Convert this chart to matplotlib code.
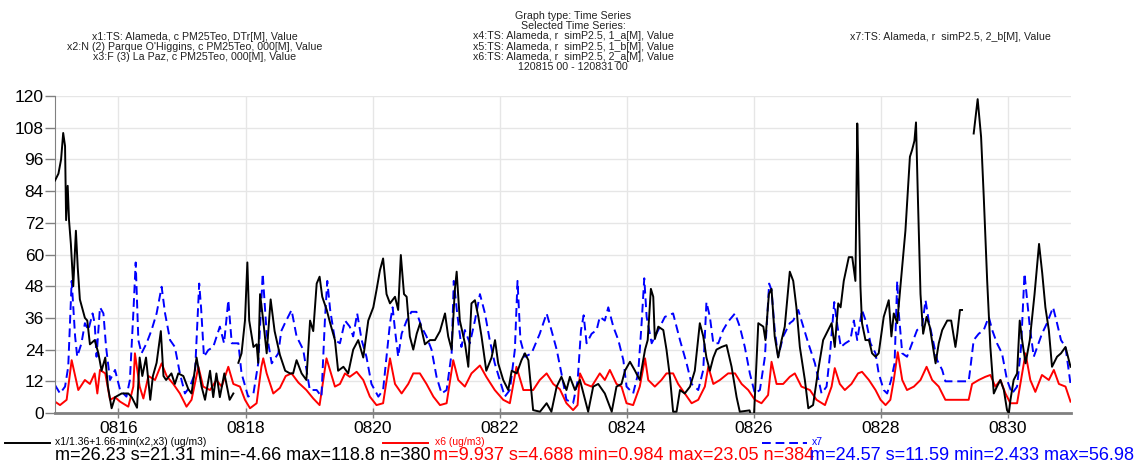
import matplotlib
matplotlib.use("Agg")
import matplotlib.pyplot as plt
import matplotlib.dates as mdates
from matplotlib.lines import Line2D
import numpy as np
import pandas as pd

plt.rcParams["font.family"] = ["Liberation Sans", "DejaVu Sans"]

START = pd.Timestamp("2012-08-15 00:00")
END = pd.Timestamp("2012-08-31 00:00")

# x1/1.36+1.66-min(x2,x3): hours since 0815 00 and values (nan = gap)
x1_hours = [
    0, 1.3, 2.3, 3.1, 3.8, 4.2, 4.8, 5.3, 6, 6.9, 7.9, 8.6, 9.4, 11.3, 12.2, 13.2, 15, 16.4,
    17.6, 19, 20, 21.4, 22.7, 25.2, 27.7, 29, 31, 32, 33, 34.4, 36, 37, 38.4, 40, 41, 42, 44,
    45.3, 46.6, 48.5, 50.4, 51.6, 53.5, 55.4, 56.7, 58.6, 59.8, 61, 62.3, 64, 66, 67.4, 68.3,
    69.3, 70.5, 71.8, 72.7, 73.4, 75, 76.2, 76.8, 77.5, 78.7, 80, 81.5, 83, 85, 87, 88.8, 90,
    91.3, 93.2, 95, 96.4, 97.6, 98.9, 100, 101, 102.7, 104, 105.8, 107, 109, 110.8, 112.7,
    114.6, 116.5, 118.4, 120.3, 121.5, 122.8, 124, 125.3, 126.6, 128.5, 129.7, 130.7, 131.9,
    132.9, 134.1, 135.4, 136.7, 138, 139.8, 141.7, 143.6, 145.5, 147.4, 148.6, 149.9, 151.1,
    151.8, 153, 155, 156.2, 157.4, 158.7, 160, 161.2, 163, 165, 166.3, 167.5, 169.4, 171.3,
    172.6, 174.5, 176.3, 177.6, 178.9, 180.7, 183.3, 185.8, 187.6, 189.6, 191.4, 193.3, 194.6,
    196.5, 198.4, 201.5, 203.4, 205.3, 207.8, 210.4, 212.2, 214.1, 215.4, 217.3, 219.2, 221,
    223, 224, 225.2, 226.1, 226.7, 228, 229.9, 231.1, 232.4, 233.6, 234.9, 236.2, 238, 240,
    241.8, 243.7, 245, 246.2, 247.5, 248.8, 250, 251.9, 253.8, 255.7, 257.6, 258.8, 262.5,
    264, 265.8, 267.7, 268.5, 269.8, 270.8, 272, 273.3, 274.6, 275.8, 277.7, 279, 280.2,
    281.5, 283.4, 284.7, 286.5, 288.4, 290.3, 292.2, 293.5, 294.7, 296, 296.9, 298.1, 300,
    301.3, 302.5, 303.2, 303.5, 303.9, 304.4, 305, 306.3, 307.6, 308.8, 310.1, 311.3, 313.2,
    315.1, 316.1, 317, 318.3, 319.5, 321.4, 323.1, 323.9, 324.8, 325.4, 326.1, 327.1, 328.1,
    329.4, 330.6, 332.8, 334, 335.3, 337.2, 338.7, 340.3, 341, 342, 342.8, 345, 347.2, 348.7,
    350, 351, 352.3, 353.5, 354.8, 356, 357.3, 358.6, 359.8, 360.5, 361.1, 362.3, 363.6,
    364.6, 365.5, 366.8, 368.4, 370.2, 371.9, 373.1, 374.3, 375.6, 376.8, 378.7, 380.2,
    381.9, 383.8,
]
x1_values = [
    88, 90.6, 96, 106, 101, 73, 86, 73, 64, 48, 69, 55, 43, 36, 35, 26, 27.6, 22.6,
    16, 21, 10, 1.8, 6, 7.4, 7.4, 6, 2, 21, 14, 21, 5, 14, 19, 31, 14, 12.5, 15,
    11, 15, 14, 9, 7.4, 21, 10, 5, 16, 6, 15, 6, 15, 5, 7.4, np.nan,
    19, 22.6, 35, 57, 35, 25, 26, 19, 45, 35, 22.6, 43, 31, 22, 16, 15, 15,
    20, 15, 12.5, 35, 31, 49, 51.6, 44, 39, 34, 27.6, 16, 17.5, 15, 24,
    27.6, 21, 35, 40, 46.5, 54, 58.5, 45, 41.5, 44, 39, 59.8, 45,
    44, 29, 24, 30, 34, 26, 27.6, 27.6, 31, 37.7, 29, 24, 46.5,
    53.5, 35, 26, 17.5, 41.5, 42.7, 36.4, 29, 16, 21, 27.6, 18.8, 12.5, 8.7,
    16, 15, 20, 22.6, 20, 1.1, 0.5, 3.7, 0.5, 10, 13.7, 8.7, 13.7,
    8.7, 12.5, 0.5, 10, 11, 7.4, 0.5, 10, 11, 16, 19.4, 16, 12.5,
    24, 27.6, 47, 44, 28, 32.7, 31.4, 24, 13.7, 0.5, 0.5, 8.7, 7.4, 10,
    16, 34, 29, 21, 16, 21, 24, 25, 25.7, 17.5, 6, 0.5, 1,
    -4.66, 34, 32.7, 27.6, 45, 47, 29, 21, 27.6, 32.7, 53.5, 50, 40,
    25, 12.5, 1.8, 3, 16, 27.6, 31.4, 34, 25, 41.5, 40, 50, 59,
    59, 50, 109.6, 97, 73, 47.8, 34, 27.6, 27.6, 22.6, 21.3, 22.6, 36.4,
    42.7, 29, 37.7, 34, 47.8, 69, 97, 99.5, 103, 110, 82, 45, 30,
    36.4, 32.7, 18.8, 26.4, 31.4, 35, 35, 25, 30, 39, 39, np.nan, 105.8, 118.8,
    104.5, 82, 50, 25, 7.4, 10, 12.5, 8.7, 1.1, -0.1, 5, 12.5, 15,
    35, 27.6, 18.8, 27.6, 45, 64, 53, 40, 31.4, 17.5, 21.3, 22.6,
    25, 17.5,
]

# x6
x6_hours = [
    0, 1.9, 4.4, 6.3, 7.2, 8.8, 11.3, 13.2, 15, 16, 17, 19, 20.8, 22.7, 24.6, 27.7, 29.6, 30.2,
    32, 33.4, 35.3, 37.8, 40.3, 42.2, 44.7, 47.2, 49.7, 51.6, 54.2, 56, 58.6, 61, 63, 65.5,
    67.4, 69.9, 71.8, 73.7, 76.2, 78, 78.7, 80, 82.5, 85, 87.2, 89.4, 92, 95, 97.6, 100,
    102.6, 104, 105.8, 107.7, 109.6, 111.4, 114, 116.5, 119, 121.5, 124, 126.6, 128.5, 131,
    133.5, 135.4, 137.9, 140.4, 143, 145.5, 148, 150.5, 152.4, 154.9, 157.4, 160.6, 163,
    166.2, 169.4, 171.9, 174.4, 177, 180.7, 183.2, 185.8, 188.3, 190.8, 193.3, 195.8, 197.5,
    198.4, 200.3, 202.8, 205.9, 207.8, 209.7, 212.2, 214.1, 216, 218.5, 221, 223, 224.2,
    226.7, 229.2, 231.1, 233.6, 235.5, 238, 240.6, 243.1, 245.6, 246.9, 248.8, 251.3, 254.4,
    257, 259.5, 262, 264.5, 267, 269.5, 270.8, 272.7, 275.2, 277.7, 279.6, 282.1, 285.3,
    287.8, 291, 293.5, 294.7, 296.6, 298.5, 301, 303.5, 305, 307.6, 310.1, 312, 313.9, 315.7,
    317, 318.5, 320.2, 322, 324.6, 327.1, 329.4, 331.5, 334, 336.5, 345.3, 346.6, 349.1,
    351.6, 353.5, 355.4, 357.3, 359.2, 361.1, 363.6, 365.5, 366.8, 368.6, 370.5, 373, 375.6,
    377.5, 379.4, 381.9, 383.8,
]
x6_values = [
    4.3, 3, 5, 20, 16, 8.7, 12.5, 11, 15, 7.4, 16.3, 15, 5, 6, 4.3, 2.4, 10, 22.6,
    10, 5.5, 14, 12.5, 18.8, 14, 11, 7.4, 2.4, 5, 17.5, 10, 8.7, 12.5, 10, 17.5,
    11, 10, 5, 1.8, 3.7, 17.5, 20.7, 15, 7.4, 9.5, 14, 15, 11.5, 8.7, 5.5, 3,
    20.7, 16, 10, 11, 15, 13.7, 15.6, 12.5, 6.2, 3, 3.7, 20.7, 11, 7.4,
    11, 15, 15, 11, 6.2, 3, 3.7, 20, 12.5, 10, 15, 18, 13.7,
    8.7, 5, 3.7, 17.5, 8.7, 8.7, 12.5, 15, 11, 9, 3.7, 1.1, 3,
    15, 11, 10, 15, 12.5, 16.3, 11, 10, 3.7, 3, 10, 20.7, 12.5,
    10, 12.5, 15, 15, 11, 7.4, 3.7, 5, 10, 17.5, 11, 12.5, 15,
    15, 11, 8.7, 5, 3.7, 6.8, 19.4, 11, 11, 13.7, 15, 10, 8.7,
    5, 3, 10, 17, 11, 8.7, 11, 15, 15.6, 12.5, 8.7, 5, 3, 5,
    12.5, 23.05, 12.5, 8.7, 10, 12.5, 17.5, 12.5, 10, 5, 5, 11, 12.5,
    13.7, 14.4, 10, 12.5, 7.4, 3.7, 3.7, 15, 22.6, 12.5, 8, 14.4, 12.5,
    16.3, 11, 10, 4.3,
]

# x7
x7_hours = [
    0, 1.9, 3.8, 5, 6.3, 7.6, 8.4, 10, 11.3, 12.6, 14.2, 15, 15.7, 17, 18.3, 19.3, 20.8, 22.7,
    24.6, 27, 28.3, 29.6, 30.5, 31.5, 32.7, 34.6, 36.5, 38.4, 40.3, 41.6, 43.5, 45.3, 47.2,
    49.1, 51, 52.9, 54.5, 55.2, 56.3, 57.9, 59.8, 62.3, 63.9, 65.5, 66.8, 69.3, 70.5, 73, 75,
    76.8, 78.5, 80, 81.9, 84.4, 85.5, 86.9, 89.4, 91.3, 93.8, 96.3, 98.9, 100.7, 102, 102.9,
    104, 105.8, 107.7, 109.6, 111.4, 112.7, 114.2, 115.9, 117.7, 119.6, 122.2, 124, 125.3,
    126.6, 127.6, 128.5, 129.7, 131, 132.9, 134.7, 136.6, 138.5, 140.4, 142.3, 144.2, 146.1,
    148, 149.9, 150.7, 152, 153.6, 154.9, 156.8, 158.7, 160.6, 162.5, 164.3, 166.2, 168.1,
    170, 171.9, 173.8, 174.8, 175.9, 177.6, 180.1, 183.2, 185.8, 187.6, 189.6, 191.4, 193.3,
    195.8, 197.5, 198.8, 199.8, 200.9, 202.8, 204.7, 205.9, 207.8, 209.1, 211, 212.9, 214.8,
    216, 218.5, 220.4, 221.7, 222.7, 223.6, 225.5, 228, 230.5, 233.6, 236.2, 238.7, 240.6,
    243.1, 245, 246.2, 247.5, 248.8, 250.7, 252.5, 254.4, 257, 258.8, 260.7, 262.6, 264.5,
    266.4, 268.3, 269.9, 270.8, 272, 273.3, 275.2, 277.7, 279, 280.9, 282.8, 284.7, 287.2,
    289.7, 291.6, 292.8, 294.5, 295.7, 297, 298.7, 300.6, 301.9, 303.2, 305, 306.7, 308.2,
    310.1, 311.3, 313.2, 314.5, 316, 317.3, 318.3, 318.9, 320.2, 322, 323.9, 325.8, 327.7,
    329, 330.2, 331.5, 333.4, 335.3, 336.5, 345.3, 346, 347.2, 349.1, 351, 352.9, 354.2, 356,
    357.9, 359.8, 361.7, 363.6, 365.1, 366.4, 367.4, 368.4, 369.9, 371.2, 373, 374.9, 377.2,
    378.7, 380.2, 381.9, 383.1, 383.8,
]
x7_values = [
    10.6, 7.4, 10, 17.5, 50, 29, 21.3, 26.4, 34, 31.4, 37.7, 34, 21.3, 40, 37.7, 25, 12.5, 16.3,
    8.7, 6.2, 12.5, 37.7, 56.98, 27.6, 22.6, 26.4, 31.4, 37.7, 47.8, 37.7, 27.6, 25, 15,
    7.4, 10, 15, 49, 40, 21.3, 23.8, 25, 32.7, 26.4, 42.7, 26.4, 26.4, 15, 6.2, 7.4,
    18.8, 52.8, 30, 18.8, 22.6, 31, 34, 39, 29, 24, 8.7, 8.7, 6.2, 35, 50,
    39, 27.6, 26.4, 35, 32.7, 29, 37.7, 27.6, 21.3, 11, 6.2, 8.7, 21.3,
    34, 40, 31.4, 21.3, 30, 35, 38.3, 38.3, 32.7, 29, 24, 13.7, 7.4,
    8.7, 22.6, 50, 37.7, 25, 31.4, 26.4, 35, 45, 37.7, 27.6, 18.8, 12.5,
    6.2, 8.7, 24, 50, 27.6, 21.3, 22.6, 30, 37.7, 31.4, 24, 15, 5,
    3.7, 12, 31.4, 37, 26.4, 30, 31.4, 36.4, 35, 40, 32.7, 27.6, 20,
    10, 7.4, 15, 34, 51, 36.4, 26.4, 31.4, 36.4, 37.7, 27.6, 18.8, 11,
    8.7, 16.3, 42, 36.4, 26.4, 26.4, 31.4, 34.6, 37.7, 32.7, 25, 15, 7.4,
    8.7, 21.3, 49, 46.5, 31.4, 21.3, 29, 34, 35, 39, 32.7, 26.4, 18.8,
    7.4, 10, 21.3, 42, 33, 25, 26.4, 27.6, 35, 27.6, 39, 34, 26.4,
    22.6, 15, 8.7, 7.4, 12.5, 18.8, 50, 37.7, 22.6, 21.3, 26.4, 31.4, 32.7,
    42.7, 35, 29, 20, 16.3, 12, 12, 17.5, 27.6, 30, 31.4, 36.4, 31.4, 26.4,
    22.6, 12.5, 7.4, 10, 25, 52.8, 42.7, 32.7, 21.3, 25, 30, 34, 40,
    34, 27.6, 25, 16.3, 11,
]

series_labels = ["x1/1.36+1.66-min(x2,x3) (ug/m3)", "x6 (ug/m3)", "x7"]
series_stats = [
    "m=26.23 s=21.31 min=-4.66 max=118.8 n=380",
    "m=9.937 s=4.688 min=0.984 max=23.05 n=384",
    "m=24.57 s=11.59 min=2.433 max=56.98",
]

header_left = [
    "x1:TS: Alameda, c PM25Teo, DTr[M], Value",
    "x2:N (2) Parque O'Higgins, c PM25Teo, 000[M], Value",
    "x3:F (3) La Paz, c PM25Teo, 000[M], Value",
]
header_mid = [
    "Graph type: Time Series",
    "Selected Time Series:",
    "x4:TS: Alameda, r  simP2.5, 1_a[M], Value",
    "x5:TS: Alameda, r  simP2.5, 1_b[M], Value",
    "x6:TS: Alameda, r  simP2.5, 2_a[M], Value",
    "120815 00 - 120831 00",
]
header_right = ["x7:TS: Alameda, r  simP2.5, 2_b[M], Value"]


def to_time(hours):
    return START + pd.to_timedelta(hours, unit="h")


fig = plt.figure(figsize=(11.41, 4.66), dpi=100)
ax = fig.add_axes([0.0482, 0.1137, 0.8905, 0.6803])

ax.plot(to_time(x1_hours), x1_values, color="black", lw=1.4, zorder=3)
ax.plot(to_time(x6_hours), x6_values, color="#ff0000", lw=1.4, zorder=2)
ax.plot(to_time(x7_hours), x7_values, color="#0000ff", lw=1.4,
        dashes=(4.5, 2.5), zorder=2)

ax.set_xlim(START, END)
ax.set_ylim(0, 120)
ax.set_yticks(np.arange(0, 121, 12))
ax.xaxis.set_major_locator(mdates.DayLocator(bymonthday=range(16, 31, 2)))
ax.xaxis.set_major_formatter(mdates.DateFormatter("%m%d"))

ax.grid(True, color="#e6e6e6", lw=1)
ax.set_axisbelow(True)
for s in ["top", "right"]:
    ax.spines[s].set_visible(False)
ax.spines["left"].set_color("#808080")
ax.spines["bottom"].set_color("#808080")
ax.spines["bottom"].set_linewidth(2)
ax.tick_params(axis="y", direction="out", length=7, width=1, color="#808080",
               labelsize=12.5, pad=1)
ax.tick_params(axis="x", direction="inout", length=7, width=1, color="#808080",
               labelsize=12.5, pad=2)

# header text
for i, line in enumerate(header_left):
    fig.text(195 / 1141, 1 - (37 + 10 * i) / 466, line, ha="center", va="center",
             fontsize=7.7, color="#222222")
for i, line in enumerate(header_mid):
    fig.text(573 / 1141, 1 - (16 + 10.2 * i) / 466, line, ha="center", va="center",
             fontsize=7.7, color="#222222")
for i, line in enumerate(header_right):
    fig.text(950 / 1141, 1 - 37 / 466, line, ha="center", va="center",
             fontsize=7.7, color="#222222")

# bottom legend with statistics
legend_colors = ["black", "#ff0000", "#0000ff"]
legend_dashes = [None, None, (4.5, 2.5)]
line_spans = [(5, 50), (383, 428), (762, 807)]
text_x = [55, 433, 810]
for i in range(3):
    x0, x1 = line_spans[i]
    ln = Line2D([x0 / 1141, x1 / 1141], [1 - 443 / 466] * 2, color=legend_colors[i],
                lw=1.4, transform=fig.transFigure)
    if legend_dashes[i]:
        ln.set_dashes(legend_dashes[i])
    fig.add_artist(ln)
    fig.text((text_x[i] + (2 if i else 0)) / 1141, 1 - 442 / 466, series_labels[i],
             ha="left", va="center", fontsize=7.5, color=legend_colors[i])
    fig.text(text_x[i] / 1141, 1 - 455 / 466, series_stats[i], ha="left",
             va="center", fontsize=13.1, color=legend_colors[i])

fig.savefig("out.png", dpi=100)
